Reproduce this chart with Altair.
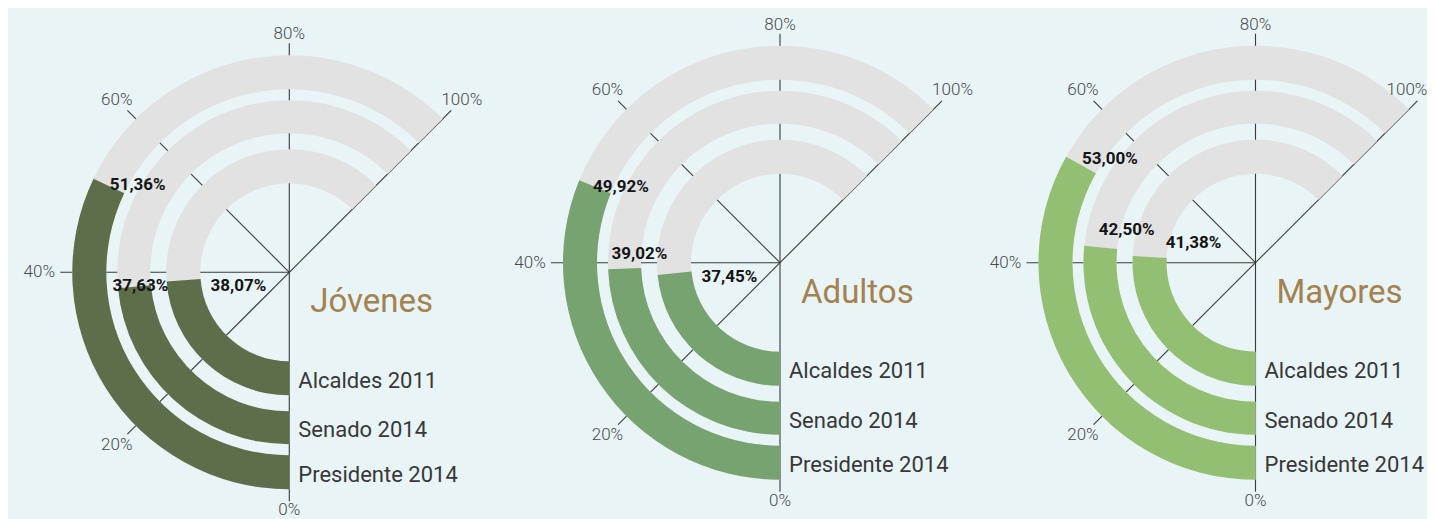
import math
import altair as alt
import pandas as pd

# ---------------- data ----------------
GROUPS = ["Jóvenes", "Adultos", "Mayores"]
SERIES = ["Alcaldes 2011", "Senado 2014", "Presidente 2014"]
VAL_JOVENES = [38.07, 37.63, 51.36]
VAL_ADULTOS = [37.45, 39.02, 49.92]
VAL_MAYORES = [41.38, 42.50, 53.00]
TICKS = [0, 20, 40, 60, 80, 100]
TICK_LABELS = ["0%", "20%", "40%", "60%", "80%", "100%"]
COLORS = ["#5d6e4a", "#76a36f", "#93bf72"]

VALUES = {"Jóvenes": VAL_JOVENES, "Adultos": VAL_ADULTOS, "Mayores": VAL_MAYORES}

# ---------------- layout ----------------
W, H = 1419, 511
OFF = 8  # page margin
CENTERS = {"Jóvenes": (289.3 - OFF, 272.3 - OFF),
           "Adultos": (780.0 - OFF, 262.7 - OFF),
           "Mayores": (1255.5 - OFF, 262.7 - OFF)}
RING_R = [(89, 123), (139, 172), (183, 217)]  # inner, middle, outer ring
SPOKE_R = 229
TICK_HALF_W = 19  # approx half width of a tick label, to keep it inside the canvas
# nudges of the value labels relative to the end of each coloured arc
NUDGE = {
    "Jóvenes": [(27, 6), (-22, -1), (1, -1)],
    "Adultos": [(27, 4), (-13, -15), (-2, 0)],
    "Mayores": [(16, -14), (-2, -17), (1, -6)],
}
BG = "#e8f4f6"
GRAY = "#e2e2e2"
FONT = "Roboto"


def ang(p):
    return math.pi + p / 100.0 * 1.25 * math.pi


arc_rows, spoke_rows, tick_rows, title_rows = [], [], [], []
for g in GROUPS:
    cx, cy = CENTERS[g]
    for i, s in enumerate(SERIES):
        v = VALUES[g][i]
        r0, r1 = RING_R[i]
        rm = (r0 + r1) / 2
        a = ang(v)
        dx, dy = NUDGE[g][i]
        arc_rows.append(dict(
            group=g, series=s, value=v, zero=0, full=100, cx=cx, cy=cy, r0=r0, r1=r1,
            lx=cx + rm * math.sin(a) + dx, ly=cy - rm * math.cos(a) + dy,
            label=f"{v:.2f}".replace(".", ",") + "%",
            sx=cx + 9, sy=cy + rm + 9.5,
        ))
    for t, tl in zip(TICKS, TICK_LABELS):
        a = ang(t)
        rl = 238 + 12 * math.sin(a) ** 2
        spoke_rows.append(dict(group=g, x=cx, y=cy,
                               x2=cx + SPOKE_R * math.sin(a), y2=cy - SPOKE_R * math.cos(a)))
        tx = min(cx + rl * math.sin(a), W - TICK_HALF_W - 1)
        tick_rows.append(dict(group=g, label=tl, x=tx, y=cy - rl * math.cos(a)))
    title_rows.append(dict(group=g, x=cx + 21, y=cy + 40))

arcs = pd.DataFrame(arc_rows)
spokes = pd.DataFrame(spoke_rows)
ticks = pd.DataFrame(tick_rows)
titles = pd.DataFrame(title_rows)

THETA = alt.Scale(domain=[0, 100], range=[math.pi, 2.25 * math.pi])
COLOR = alt.Color("group:N", scale=alt.Scale(domain=GROUPS, range=COLORS), legend=None)


def px(f):
    return alt.X(f, scale=None, axis=None)


def py(f):
    return alt.Y(f, scale=None, axis=None)


spoke_layer = alt.Chart(spokes).mark_rule(color="#3a3a3a", strokeWidth=1.1).encode(
    x=px("x:Q"), y=py("y:Q"), x2="x2:Q", y2="y2:Q")

gray_layer = alt.Chart(arcs).mark_arc(color=GRAY).encode(
    x=px("cx:Q"), y=py("cy:Q"),
    theta=alt.Theta("zero:Q", scale=THETA, stack=False), theta2="full:Q",
    radius=alt.Radius("r1:Q", scale=None), radius2="r0:Q")

color_layer = alt.Chart(arcs).mark_arc().encode(
    x=px("cx:Q"), y=py("cy:Q"),
    theta=alt.Theta("zero:Q", scale=THETA, stack=False), theta2="value:Q",
    radius=alt.Radius("r1:Q", scale=None), radius2="r0:Q",
    color=COLOR)

value_text = alt.Chart(arcs).mark_text(
    align="left", baseline="middle", font=FONT, fontSize=17, fontWeight="bold", color="#151515"
).encode(x=px("lx:Q"), y=py("ly:Q"), text="label:N")

series_text = alt.Chart(arcs).mark_text(
    align="left", baseline="alphabetic", font=FONT, fontSize=22, color="#383838"
).encode(x=px("sx:Q"), y=py("sy:Q"), text="series:N")

tick_text = alt.Chart(ticks).mark_text(
    align="center", baseline="middle", font=FONT, fontSize=17, fontWeight=300, color="#4a4a4a"
).encode(x=px("x:Q"), y=py("y:Q"), text="label:N")

title_text = alt.Chart(titles).mark_text(
    align="left", baseline="alphabetic", font=FONT, fontSize=33, color="#a4824f"
).encode(x=px("x:Q"), y=py("y:Q"), text="group:N")

chart = alt.layer(
    spoke_layer, gray_layer, color_layer, value_text, series_text, tick_text, title_text
).properties(
    width=W, height=H, background=BG, padding=0,
    autosize=alt.AutoSizeParams(type="none"),
).configure_view(stroke=None)

chart.save("out.html", embed_options={"renderer": "svg", "actions": False})
